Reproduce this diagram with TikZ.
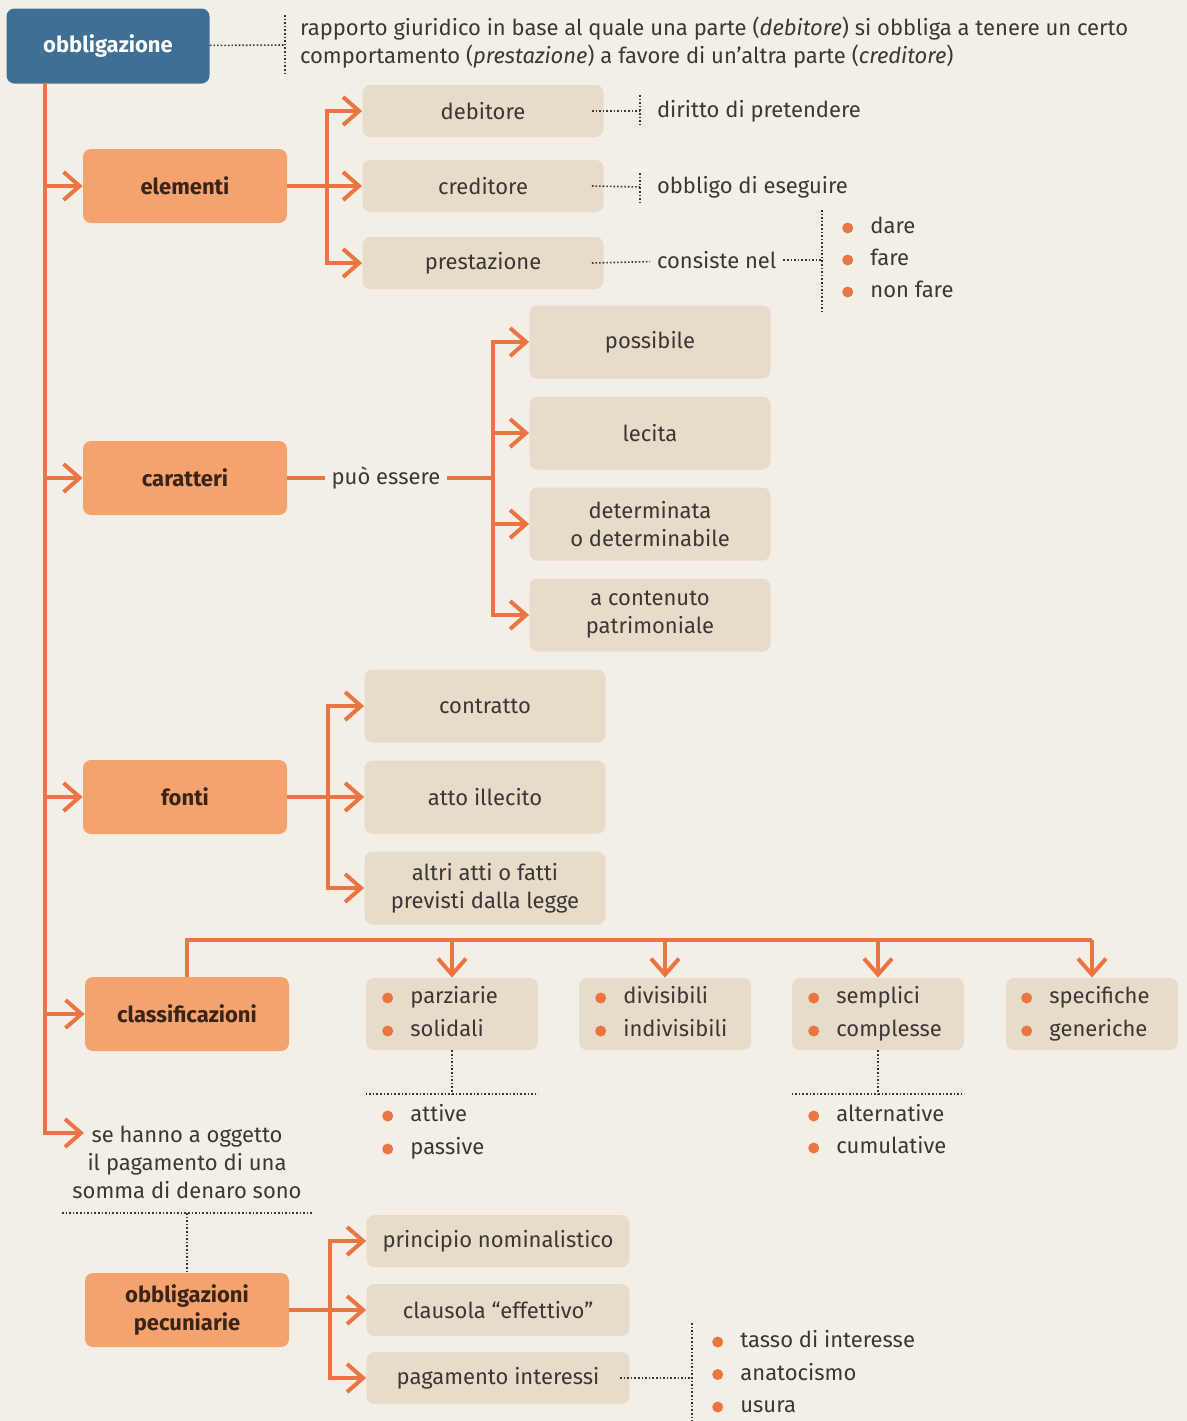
\documentclass[tikz,border=0pt]{standalone}
\usepackage{fontspec}
\setmainfont{Fira Sans}
\usepackage{xcolor}
\usetikzlibrary{positioning,arrows.meta}

\definecolor{sfondo}{HTML}{F3EFE7}
\definecolor{blu}{HTML}{3F6F94}
\definecolor{arancio}{HTML}{F5A36E}
\definecolor{linea}{HTML}{EA7542}
\definecolor{sabbia}{HTML}{E7DBCA}
\definecolor{inchiostro}{HTML}{3B3735}
\definecolor{marrone}{HTML}{3A2418}

\begin{document}
\begin{tikzpicture}[x=0.5pt, y=-0.5pt, font=\fontsize{11}{14}\selectfont, text=inchiostro,
    radice/.style={fill=blu, rounded corners=4pt, minimum width=101.5pt, minimum height=37.5pt,
      text=white, font=\fontsize{11}{14}\selectfont\bfseries},
    tema/.style={fill=arancio, rounded corners=4pt, minimum width=102pt, minimum height=37pt,
      align=center, text=marrone, font=\fontsize{11}{14}\selectfont\bfseries},
    voce/.style={fill=sabbia, rounded corners=4pt, minimum width=120.5pt, minimum height=26pt, align=center},
    alta/.style={voce, minimum height=36.5pt},
    classe/.style={voce, minimum width=86pt, minimum height=36pt},
    ramo/.style={draw=linea, line width=2pt},
    freccia/.style={ramo, -{Straight Barb[length=8pt, width=14pt]}},
    punt/.style={draw=inchiostro, line width=0.8pt, dash pattern=on 0.8pt off 1pt},
    punto/.style={anchor=west, inner sep=2pt, text height=7.5pt, text depth=2pt,
      label={[circle, fill=linea, inner sep=0pt, minimum size=5.5pt, label distance=6.2pt]left:{}}}]
    \fill[sfondo] (0,0) rectangle (1187,1421);
    \useasboundingbox (0,0) rectangle (1187,1421);

    % radice e definizione
    \node[radice] (obb) at (108,46) {obbligazione};
    \node[anchor=west, align=left] (def) at (293,43) {rapporto giuridico in base al quale una parte (\textit{debitore}) si obbliga a tenere un certo\\
      comportamento (\textit{prestazione}) a favore di un'altra parte (\textit{creditore})};
    \coordinate (gdef) at (285,45);
    \draw[punt] (obb) -- (gdef); \draw[punt] ([yshift=15pt]gdef) -- ([yshift=-15pt]gdef);
    \coordinate (tronco) at (45,83);

    % elementi
    \node[tema] (elem) at (185,186) {elementi};
    \node[voce] (deb) at (483,111) {debitore};
    \node[voce] (cred) at (483,186) {creditore};
    \node[voce] (prest) at (483,263) {prestazione};
    \coordinate (e1) at (327,186);
    \draw[ramo] (elem) -- (e1);
    \draw[freccia] (e1) |- (deb); \draw[freccia] (e1) -- (cred); \draw[freccia] (e1) |- (prest);
    \node[anchor=west] (dir) at (650,111) {diritto di pretendere};
    \node[anchor=west] (obl) at (650,187) {obbligo di eseguire};
    \node[anchor=west] (cons) at (650,260) {consiste nel};
    \draw[punt] ([xshift=-6pt]deb.east) -- ([xshift=-5pt]dir.west);
    \draw[punt] ([xshift=-5pt, yshift=8pt]dir.west) -- ([xshift=-5pt, yshift=-8pt]dir.west);
    \draw[punt] ([xshift=-6pt]cred.east) -- ([xshift=-5pt]obl.west);
    \draw[punt] ([xshift=-5pt, yshift=7pt]obl.west) -- ([xshift=-5pt, yshift=-8pt]obl.west);
    \draw[punt] ([xshift=-6pt]prest.east) -- (cons);
    \coordinate (g1) at (822,260);
    \draw[punt] (cons) -- (g1); \draw[punt] ([yshift=25pt]g1) -- ([yshift=-26pt]g1);
    \foreach \t [count=\i from 0] in {dare,fare,non fare}
      \node[punto] (pr\i) at (866,228+32*\i) {\t};

    % caratteri
    \node[tema] (car) at (185,478) {caratteri};
    \node (pe) at (386,478) {può essere};
    \coordinate (c1) at (493,478);
    \draw[ramo] (car) -- (pe); \draw[ramo] (pe) -- (c1);
    \node[alta] (poss) at (650,342) {possibile};
    \node[alta] (lec) at (650,433) {lecita};
    \node[alta] (det) at (650,524) {determinata\\o determinabile};
    \node[alta] (patr) at (650,615) {a contenuto\\patrimoniale};
    \foreach \n in {poss,lec,det,patr}
      \draw[freccia] (c1) |- (\n);

    % fonti
    \node[tema] (fon) at (185,797) {fonti};
    \node[alta] (contr) at (485,706) {contratto};
    \node[alta] (ill) at (485,797) {atto illecito};
    \node[alta] (altri) at (485,888) {altri atti o fatti\\previsti dalla legge};
    \coordinate (f1) at (328,797);
    \draw[ramo] (fon) -- (f1);
    \foreach \n in {contr,ill,altri}
      \draw[freccia] (f1) |- (\n);

    % classificazioni
    \node[tema] (cla) at (187,1014) {classificazioni};
    \node[classe] (cl1) at (452,1014) {};
    \node[classe] (cl2) at (665,1014) {};
    \node[classe] (cl3) at (878,1014) {};
    \node[classe] (cl4) at (1092,1014) {};
    \coordinate (k1) at (1092,940);
    \draw[ramo] (cla.north) |- (k1);
    \foreach \n in {cl1,cl2,cl3,cl4}
      \draw[freccia] (\n.north |- k1) -- (\n);
    \foreach \a/\b [count=\i] in {parziarie/solidali, divisibili/indivisibili, semplici/complesse, specifiche/generiche} {
      \node[punto] (k\i-a) at (193+213*\i,998) {\a};
      \node[punto] (k\i-b) at (193+213*\i,1031) {\b};
    }
    \coordinate (s1) at (452,1094);
    \draw[punt] (cl1) -- (s1); \draw[punt] (s1 -| cl1.west) -- (s1 -| cl1.east);
    \node[punto] (att) at (406,1116) {attive};
    \node[punto] (pas) at (406,1149) {passive};
    \coordinate (s3) at (878,1094);
    \draw[punt] (cl3) -- (s3); \draw[punt] (s3 -| cl3.west) -- (s3 -| cl3.east);
    \node[punto] (alt) at (832,1116) {alternative};
    \node[punto] (cum) at (832,1148) {cumulative};

    % tronco principale
    \node[align=center] (ogg) at (187,1162) {se hanno a oggetto\\il pagamento di una\\somma di denaro sono};
    \coordinate (ogg-in) at (84,1133);
    \draw[ramo] (obb.south -| tronco) -- (tronco);
    \foreach \n in {elem,car,fon,cla}
      \draw[freccia] (tronco |- \n) -- (\n);
    \draw[freccia] (tronco) |- (ogg-in);

    % obbligazioni pecuniarie
    \node[tema] (pec) at (187,1310) {obbligazioni\\pecuniarie};
    \coordinate (s0) at (187,1213);
    \draw[punt] (s0) -- (pec); \draw[punt] ([xshift=-62.5pt]s0) -- ([xshift=62.5pt]s0);
    \node[voce, minimum width=131.5pt] (nom) at (498,1241) {principio nominalistico};
    \node[voce, minimum width=131.5pt] (eff) at (498,1310) {clausola “effettivo”};
    \node[voce, minimum width=131.5pt] (int) at (498,1378) {pagamento interessi};
    \coordinate (q1) at (330,1310);
    \draw[ramo] (pec) -- (q1);
    \foreach \n in {nom,eff,int}
      \draw[freccia] (q1) |- (\n);
    \coordinate (g2) at (692,1378);
    \draw[punt] ([xshift=-5pt]int.east) -- (g2); \draw[punt] ([yshift=27.5pt]g2) -- ([yshift=-21.5pt]g2);
    \foreach \t [count=\i from 0] in {tasso di interesse,anatocismo,usura}
      \node[punto] (ti\i) at (736,1342+32.5*\i) {\t};
  \end{tikzpicture}
\end{document}
